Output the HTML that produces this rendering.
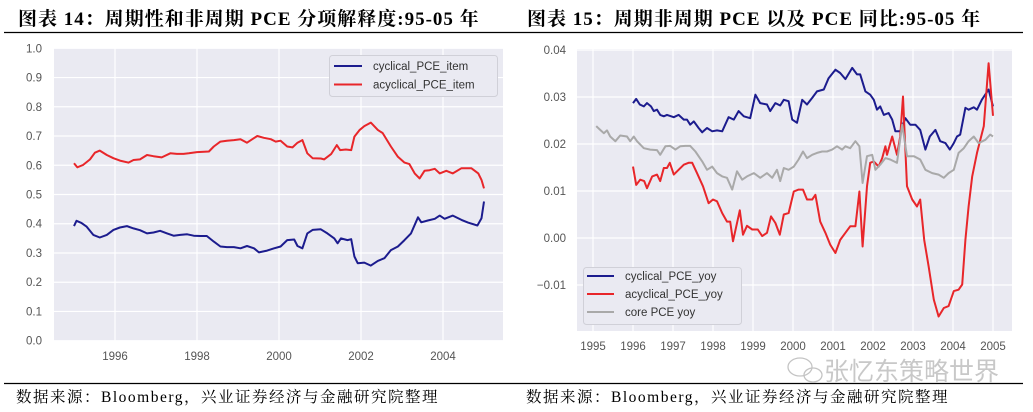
<!DOCTYPE html>
<html><head><meta charset="utf-8">
<style>
body{margin:0;background:#fff;}
svg{display:block;}
.tk{font-family:"Liberation Sans","DejaVu Sans",sans-serif;font-size:11.5px;fill:#555;}
.lg{font-family:"Liberation Sans","DejaVu Sans",sans-serif;font-size:11.5px;fill:#333;}
.ttl{font-family:"Liberation Serif","Noto Serif CJK SC",serif;font-size:19px;font-weight:bold;fill:#000;letter-spacing:1px;}
.src{font-family:"Liberation Serif","Noto Serif CJK SC",serif;font-size:15.5px;fill:#000;letter-spacing:1.5px;}
</style></head>
<body>
<svg id="root" width="1033" height="412" viewBox="0 0 1033 412" xmlns="http://www.w3.org/2000/svg">
<text class="ttl" x="18" y="25">图表 14：周期性和非周期 PCE 分项解释度:95-05 年</text>
<text class="ttl" x="527" y="25">图表 15：周期非周期 PCE 以及 PCE 同比:95-05 年</text>
<line x1="4" y1="32.5" x2="1023" y2="32.5" stroke="#000" stroke-width="1.2"/>
<line x1="4" y1="383.5" x2="1023" y2="383.5" stroke="#000" stroke-width="1.2"/>
<text class="src" x="16" y="402">数据来源：Bloomberg，兴业证券经济与金融研究院整理</text>
<text class="src" x="526" y="402">数据来源：Bloomberg，兴业证券经济与金融研究院整理</text>
<g id="left"></g>
<g id="right"></g>
<g fill="none" stroke="#c4c4c4" stroke-width="1.3">
<ellipse cx="800" cy="367" rx="12" ry="9"/><ellipse cx="813" cy="375" rx="9" ry="7"/>
</g>
<text x="824" y="380" style="font-family:'Noto Sans CJK SC',sans-serif;font-size:25px;fill:#c8c8c8">张忆东策略世界</text>
</svg>
<script>
// ---- Left chart data ----
const leftYears1 = [1995.0,1995.06,1995.18,1995.31,1995.47,1995.63,1995.80,1995.96,1996.12,1996.29,1996.45,1996.61,1996.78,1996.94,1997.10,1997.27,1997.43,1997.59,1997.76,1997.92,1998.08,1998.24,1998.41,1998.57,1998.73,1998.90,1999.06,1999.22,1999.39,1999.51,1999.71,1999.88,2000.04,2000.20,2000.37,2000.45,2000.57,2000.69,2000.82,2001.02,2001.18,2001.35,2001.43,2001.51,2001.67,2001.76,2001.84,2001.92,2002.08,2002.24,2002.41,2002.57,2002.73,2002.90,2003.06,2003.22,2003.39,2003.47,2003.63,2003.80,2003.92,2004.04,2004.24,2004.45,2004.61,2004.84,2004.94,2005.0];
const cyclicalItem = [0.392,0.410,0.403,0.390,0.362,0.353,0.362,0.379,0.387,0.392,0.384,0.378,0.367,0.370,0.376,0.367,0.359,0.362,0.364,0.359,0.358,0.358,0.339,0.322,0.320,0.320,0.316,0.324,0.316,0.302,0.308,0.316,0.322,0.344,0.346,0.324,0.316,0.367,0.379,0.381,0.367,0.350,0.333,0.350,0.344,0.347,0.288,0.265,0.267,0.257,0.273,0.282,0.310,0.322,0.344,0.367,0.422,0.405,0.411,0.417,0.428,0.417,0.428,0.413,0.404,0.394,0.419,0.476];
const leftYears2 = [1995.0,1995.08,1995.22,1995.39,1995.51,1995.63,1995.80,1995.96,1996.12,1996.33,1996.45,1996.61,1996.78,1996.94,1997.14,1997.35,1997.51,1997.67,1997.80,1998.00,1998.29,1998.41,1998.57,1998.73,1998.90,1999.06,1999.22,1999.35,1999.47,1999.63,1999.80,1999.92,2000.04,2000.20,2000.33,2000.45,2000.57,2000.69,2000.82,2001.02,2001.10,2001.27,2001.41,2001.49,2001.63,2001.76,2001.84,2001.96,2002.08,2002.24,2002.41,2002.53,2002.73,2002.90,2003.06,2003.18,2003.31,2003.43,2003.55,2003.67,2003.80,2003.92,2004.08,2004.24,2004.45,2004.69,2004.86,2004.94,2005.0];
const acyclicalItem = [0.607,0.593,0.601,0.620,0.643,0.650,0.635,0.624,0.616,0.609,0.618,0.620,0.635,0.631,0.627,0.641,0.639,0.639,0.641,0.645,0.647,0.664,0.681,0.684,0.686,0.689,0.677,0.689,0.700,0.694,0.689,0.681,0.684,0.664,0.661,0.677,0.686,0.641,0.624,0.623,0.620,0.638,0.669,0.652,0.654,0.652,0.698,0.720,0.734,0.746,0.721,0.710,0.664,0.629,0.609,0.604,0.572,0.555,0.581,0.583,0.588,0.572,0.581,0.572,0.590,0.590,0.572,0.550,0.521];
const leftYTicks = ["0.0","0.1","0.2","0.3","0.4","0.5","0.6","0.7","0.8","0.9","1.0"];
const leftXTicks = [1996,1998,2000,2002,2004];

// ---- Right chart data ----
const rYearsCyc = [1996.00,1996.08,1996.17,1996.27,1996.35,1996.45,1996.52,1996.60,1996.68,1996.77,1996.85,1997.02,1997.14,1997.27,1997.35,1997.43,1997.52,1997.64,1997.73,1997.85,1997.98,1998.10,1998.23,1998.39,1998.52,1998.64,1998.77,1998.93,1999.06,1999.18,1999.35,1999.43,1999.56,1999.68,1999.77,1999.89,1999.98,2000.10,2000.23,2000.35,2000.48,2000.60,2000.77,2000.89,2001.06,2001.18,2001.31,2001.48,2001.60,2001.68,2001.81,2001.93,2002.02,2002.10,2002.18,2002.27,2002.39,2002.48,2002.56,2002.68,2002.81,2002.93,2003.06,2003.18,2003.31,2003.42,2003.56,2003.68,2003.81,2003.92,2004.02,2004.10,2004.18,2004.31,2004.39,2004.52,2004.60,2004.72,2004.89,2005.00];
const cyclicalYoy = [0.0287,0.0296,0.0284,0.0280,0.0287,0.0280,0.0270,0.0273,0.0262,0.0259,0.0262,0.0257,0.0262,0.0252,0.0252,0.0241,0.0248,0.0234,0.0225,0.0234,0.0227,0.0229,0.0227,0.0257,0.0252,0.0270,0.0259,0.0255,0.0305,0.0287,0.0284,0.0270,0.0287,0.0282,0.0294,0.0291,0.0252,0.0245,0.0294,0.0284,0.0298,0.0312,0.0316,0.0340,0.0358,0.0351,0.0338,0.0362,0.0348,0.0348,0.0312,0.0305,0.0294,0.0273,0.0280,0.0262,0.0266,0.0252,0.0227,0.0227,0.0255,0.0241,0.0241,0.0230,0.0188,0.0216,0.0230,0.0206,0.0202,0.0188,0.0202,0.0216,0.0220,0.0277,0.0273,0.0278,0.0273,0.0294,0.0316,0.0280];
const rYearsAcy = [1996.00,1996.08,1996.18,1996.28,1996.35,1996.48,1996.60,1996.68,1996.77,1996.85,1996.92,1997.02,1997.14,1997.27,1997.39,1997.48,1997.60,1997.75,1997.89,1998.00,1998.10,1998.23,1998.35,1998.43,1998.50,1998.67,1998.75,1998.85,1998.98,1999.12,1999.23,1999.35,1999.45,1999.56,1999.67,1999.77,1999.89,2000.02,2000.14,2000.25,2000.35,2000.48,2000.56,2000.68,2000.81,2000.93,2001.06,2001.18,2001.31,2001.43,2001.56,2001.66,2001.74,2001.85,2001.93,2002.02,2002.14,2002.23,2002.31,2002.35,2002.48,2002.60,2002.68,2002.75,2002.85,2002.98,2003.10,2003.18,2003.28,2003.39,2003.52,2003.64,2003.77,2003.89,2004.02,2004.14,2004.23,2004.31,2004.39,2004.48,2004.60,2004.77,2004.89,2005.00];
const acyclicalYoy = [0.0152,0.0113,0.0124,0.0121,0.0106,0.0131,0.0135,0.0121,0.0149,0.0149,0.0160,0.0135,0.0145,0.0156,0.0160,0.0160,0.0138,0.0110,0.0074,0.0082,0.0078,0.0053,0.0035,0.0035,-0.0007,0.0059,0.0007,0.0026,0.0018,0.0018,0.0004,0.0011,0.0046,0.0032,0.0007,0.0050,0.0053,0.0099,0.0103,0.0103,0.0082,0.0082,0.0092,0.0035,0.0011,-0.0014,-0.0032,-0.0004,0.0011,0.0025,0.0025,0.0099,-0.0018,0.0110,0.0160,0.0163,0.0152,0.0170,0.0195,0.0177,0.0216,0.0177,0.0216,0.0301,0.0110,0.0082,0.0067,0.0082,-0.0004,-0.0060,-0.0131,-0.0167,-0.0149,-0.0145,-0.0113,-0.0110,-0.0099,-0.0004,0.0067,0.0131,0.0181,0.0238,0.0372,0.0260];
const rYearsCore = [1995.08,1995.18,1995.27,1995.35,1995.43,1995.56,1995.68,1995.85,1995.93,1996.02,1996.10,1996.27,1996.43,1996.60,1996.68,1996.81,1996.93,1997.06,1997.18,1997.31,1997.43,1997.56,1997.73,1997.85,1997.98,1998.10,1998.23,1998.35,1998.48,1998.60,1998.73,1998.85,1999.02,1999.18,1999.35,1999.48,1999.60,1999.68,1999.77,1999.89,2000.02,2000.14,2000.25,2000.35,2000.48,2000.60,2000.73,2000.85,2000.98,2001.10,2001.23,2001.31,2001.43,2001.56,2001.66,2001.74,2001.85,2001.98,2002.06,2002.18,2002.31,2002.43,2002.60,2002.73,2002.85,2003.02,2003.18,2003.31,2003.48,2003.64,2003.77,2003.89,2004.02,2004.14,2004.27,2004.39,2004.52,2004.64,2004.81,2004.93,2005.00];
const coreYoy = [0.0238,0.0230,0.0223,0.0229,0.0216,0.0206,0.0218,0.0216,0.0206,0.0216,0.0206,0.0191,0.0188,0.0187,0.0177,0.0195,0.0196,0.0188,0.0195,0.0196,0.0196,0.0184,0.0163,0.0145,0.0152,0.0138,0.0131,0.0128,0.0103,0.0142,0.0124,0.0131,0.0138,0.0128,0.0138,0.0128,0.0145,0.0121,0.0149,0.0145,0.0152,0.0167,0.0184,0.0170,0.0177,0.0181,0.0184,0.0184,0.0188,0.0195,0.0188,0.0195,0.0191,0.0206,0.0195,0.0117,0.0174,0.0177,0.0145,0.0156,0.0170,0.0167,0.0160,0.0241,0.0174,0.0174,0.0167,0.0145,0.0138,0.0135,0.0128,0.0138,0.0145,0.0181,0.0191,0.0206,0.0216,0.0202,0.0209,0.0220,0.0216];
const rightYTicks = [-0.01,0.00,0.01,0.02,0.03,0.04];
const rightYLabels = ["\u22120.01","0.00","0.01","0.02","0.03","0.04"];
const rightXTicks = [1995,1996,1997,1998,1999,2000,2001,2002,2003,2004,2005];

const NS = "http://www.w3.org/2000/svg";
function mk(tag, attrs, parent){const e=document.createElementNS(NS,tag);for(const k in attrs)e.setAttribute(k,attrs[k]);parent.appendChild(e);return e;}

const lx = y => 74 + (y-1995)*41;
const ly = v => 340.7 - v*292.4;
const rx = y => 593 + (y-1995)*40;
const ry = v => 238 - v*4700;

function path(xs, vs, fx, fy){return xs.map((x,i)=>(i?'L':'M')+fx(x).toFixed(1)+','+fy(vs[i]).toFixed(1)).join('');}

// ---- Left chart ----
const L = document.getElementById('left');
let bg = mk('rect',{x:54,y:48,width:449,height:293,fill:'#eaeaf2'},L);


leftYTicks.forEach(t=>{
  const v=parseFloat(t);
  const g=mk('line',{x1:54,x2:503,y1:ly(v),y2:ly(v),stroke:'#fff','stroke-width':1.2},L);
  
  
  const tx=mk('text',{x:42,y:ly(v)+4,'text-anchor':'end',class:'tk'},L);
  tx.textContent=t;
  
  
});
leftXTicks.forEach(t=>{
  const g=mk('line',{x1:lx(t),x2:lx(t),y1:48,y2:341,stroke:'#fff','stroke-width':1.2},L);
  
  
  const tx=mk('text',{x:lx(t),y:360,'text-anchor':'middle',class:'tk'},L);
  tx.textContent=t;
  
  
});
let p1=mk('path',{d:path(leftYears2,acyclicalItem,lx,ly),fill:'none',stroke:'#e8262a','stroke-width':2,'stroke-linejoin':'round'},L);


let p2=mk('path',{d:path(leftYears1,cyclicalItem,lx,ly),fill:'none',stroke:'#1c1c8e','stroke-width':2,'stroke-linejoin':'round'},L);


let lgL=mk('g',{},L);


mk('rect',{x:329.5,y:55.5,width:168,height:41,rx:3,fill:'#eaeaf2',stroke:'#d0d0d8'},lgL);
[['cyclical_PCE_item','#1c1c8e',66],['acyclical_PCE_item','#e8262a',84.5]].forEach(([n,c,y])=>{
  const e=mk('g',{},lgL);
  
  
  mk('line',{x1:334,x2:362,y1:y,y2:y,stroke:c,'stroke-width':2},e);
  const t=mk('text',{x:373,y:y+4,class:'lg'},e);t.textContent=n;
});

// ---- Right chart ----
const R = document.getElementById('right');
bg = mk('rect',{x:577,y:49,width:435,height:282,fill:'#eaeaf2'},R);


rightYTicks.forEach((v,i)=>{
  const g=mk('line',{x1:577,x2:1012,y1:ry(v),y2:ry(v),stroke:'#fff','stroke-width':1.2},R);
  
  
  const tx=mk('text',{x:566,y:ry(v)+4,'text-anchor':'end',class:'tk'},R);
  tx.textContent=rightYLabels[i];
  
  
});
rightXTicks.forEach(t=>{
  const g=mk('line',{x1:rx(t),x2:rx(t),y1:49,y2:331,stroke:'#fff','stroke-width':1.2},R);
  
  
  const tx=mk('text',{x:rx(t),y:350,'text-anchor':'middle',class:'tk'},R);
  tx.textContent=t;
  
  
});
let q1=mk('path',{d:path(rYearsCyc,cyclicalYoy,rx,ry),fill:'none',stroke:'#1c1c8e','stroke-width':2,'stroke-linejoin':'round'},R);


let q2=mk('path',{d:path(rYearsAcy,acyclicalYoy,rx,ry),fill:'none',stroke:'#e8262a','stroke-width':2,'stroke-linejoin':'round'},R);


let q3=mk('path',{d:path(rYearsCore,coreYoy,rx,ry),fill:'none',stroke:'#a9a9a9','stroke-width':2,'stroke-linejoin':'round'},R);


let lgR=mk('g',{},R);


mk('rect',{x:583.5,y:267.5,width:158,height:57,rx:3,fill:'#eaeaf2',stroke:'#d0d0d8'},lgR);
[['cyclical_PCE_yoy','#1c1c8e',276],['acyclical_PCE_yoy','#e8262a',294],['core PCE yoy','#a9a9a9',312]].forEach(([n,c,y])=>{
  const e=mk('g',{},lgR);
  
  
  mk('line',{x1:587,x2:614,y1:y,y2:y,stroke:c,'stroke-width':2},e);
  const t=mk('text',{x:625,y:y+4,class:'lg'},e);t.textContent=n;
});
</script>
</body></html>
